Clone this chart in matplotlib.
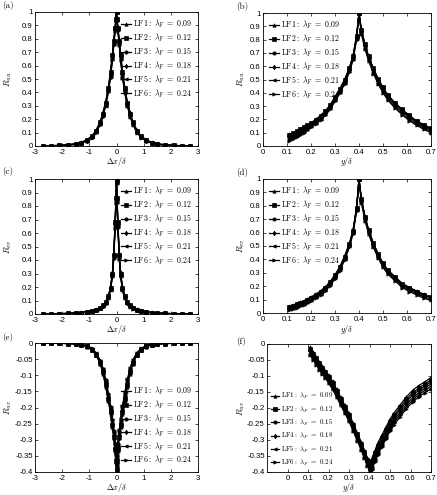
import matplotlib.pyplot as plt

plt.rcParams['mathtext.fontset'] = 'cm'
plt.rcParams['font.family'] = 'Liberation Sans'
plt.rcParams['axes.linewidth'] = 0.6

names = ['LF1', 'LF2', 'LF3', 'LF4', 'LF5', 'LF6']
lams = ['0.09', '0.12', '0.15', '0.18', '0.21', '0.24']

# streamwise separation grid for (a), (c), (e)
dx = [-2.7, -2.4, -2.1, -1.8, -1.5, -1.3, -1.1, -0.9, -0.75, -0.6, -0.5, -0.4, -0.3, -0.22, -0.15, -0.1, -0.05, -0.02,
      0, 0.02, 0.05, 0.1, 0.15, 0.22, 0.3, 0.4, 0.5, 0.6, 0.75, 0.9, 1.1, 1.3, 1.5, 1.8, 2.1, 2.4, 2.7]

# wall-normal grid for (b), (d), (f)
yd = [0.11, 0.125, 0.14, 0.155, 0.17, 0.185, 0.2, 0.22, 0.24, 0.26, 0.28, 0.3, 0.32, 0.34, 0.36, 0.375, 0.39, 0.4,
      0.41, 0.425, 0.44, 0.46, 0.48, 0.5, 0.52, 0.55, 0.58, 0.61, 0.64, 0.67, 0.7]

# (a) R_uu vs dx
ruu_x = [
    [0.002, 0.003, 0.005, 0.009, 0.017, 0.028, 0.045, 0.075, 0.12, 0.18, 0.25, 0.33, 0.44, 0.56, 0.69, 0.79, 0.89, 0.95, 1.0,
     0.95, 0.89, 0.79, 0.69, 0.56, 0.44, 0.33, 0.25, 0.18, 0.12, 0.075, 0.045, 0.028, 0.017, 0.009, 0.005, 0.003, 0.002],
    [0.001, 0.002, 0.004, 0.008, 0.016, 0.026, 0.043, 0.072, 0.115, 0.18, 0.24, 0.32, 0.43, 0.55, 0.68, 0.78, 0.88, 0.95, 1.0,
     0.95, 0.88, 0.78, 0.68, 0.55, 0.43, 0.32, 0.24, 0.18, 0.115, 0.072, 0.043, 0.026, 0.016, 0.008, 0.004, 0.002, 0.001],
    [0.001, 0.002, 0.004, 0.008, 0.015, 0.025, 0.041, 0.07, 0.11, 0.17, 0.24, 0.32, 0.42, 0.54, 0.67, 0.78, 0.88, 0.94, 1.0,
     0.94, 0.88, 0.78, 0.67, 0.54, 0.42, 0.32, 0.24, 0.17, 0.11, 0.07, 0.041, 0.025, 0.015, 0.008, 0.004, 0.002, 0.001],
    [0.001, 0.002, 0.003, 0.007, 0.014, 0.024, 0.04, 0.068, 0.11, 0.17, 0.23, 0.31, 0.42, 0.53, 0.66, 0.77, 0.87, 0.94, 1.0,
     0.94, 0.87, 0.77, 0.66, 0.53, 0.42, 0.31, 0.23, 0.17, 0.11, 0.068, 0.04, 0.024, 0.014, 0.007, 0.003, 0.002, 0.001],
    [0.0, 0.001, 0.003, 0.007, 0.013, 0.023, 0.038, 0.065, 0.105, 0.165, 0.23, 0.30, 0.41, 0.52, 0.65, 0.76, 0.87, 0.94, 1.0,
     0.94, 0.87, 0.76, 0.65, 0.52, 0.41, 0.30, 0.23, 0.165, 0.105, 0.065, 0.038, 0.023, 0.013, 0.007, 0.003, 0.001, 0.0],
    [0.0, 0.001, 0.003, 0.006, 0.012, 0.022, 0.036, 0.062, 0.10, 0.16, 0.22, 0.30, 0.40, 0.51, 0.64, 0.75, 0.86, 0.93, 1.0,
     0.93, 0.86, 0.75, 0.64, 0.51, 0.40, 0.30, 0.22, 0.16, 0.10, 0.062, 0.036, 0.022, 0.012, 0.006, 0.003, 0.001, 0.0],
]

# (c) R_vv vs dx
rvv_x = [
    [0.001, 0.002, 0.003, 0.005, 0.008, 0.012, 0.017, 0.025, 0.034, 0.048, 0.065, 0.09, 0.135, 0.20, 0.31, 0.45, 0.69, 0.87, 1.0,
     0.87, 0.69, 0.45, 0.31, 0.20, 0.135, 0.09, 0.065, 0.048, 0.034, 0.025, 0.017, 0.012, 0.008, 0.005, 0.003, 0.002, 0.001],
    [0.001, 0.002, 0.003, 0.004, 0.007, 0.011, 0.016, 0.024, 0.033, 0.046, 0.063, 0.088, 0.13, 0.195, 0.30, 0.44, 0.68, 0.86, 0.99,
     0.86, 0.68, 0.44, 0.30, 0.195, 0.13, 0.088, 0.063, 0.046, 0.033, 0.024, 0.016, 0.011, 0.007, 0.004, 0.003, 0.002, 0.001],
    [0.0, 0.001, 0.002, 0.004, 0.007, 0.01, 0.015, 0.023, 0.032, 0.045, 0.06, 0.085, 0.13, 0.19, 0.30, 0.44, 0.67, 0.85, 0.98,
     0.85, 0.67, 0.44, 0.30, 0.19, 0.13, 0.085, 0.06, 0.045, 0.032, 0.023, 0.015, 0.01, 0.007, 0.004, 0.002, 0.001, 0.0],
    [0.0, 0.001, 0.002, 0.004, 0.006, 0.01, 0.015, 0.022, 0.031, 0.043, 0.058, 0.083, 0.125, 0.185, 0.29, 0.43, 0.66, 0.84, 0.98,
     0.84, 0.66, 0.43, 0.29, 0.185, 0.125, 0.083, 0.058, 0.043, 0.031, 0.022, 0.015, 0.01, 0.006, 0.004, 0.002, 0.001, 0.0],
    [0.0, 0.001, 0.002, 0.003, 0.006, 0.009, 0.014, 0.021, 0.03, 0.042, 0.056, 0.08, 0.12, 0.18, 0.285, 0.42, 0.65, 0.83, 0.97,
     0.83, 0.65, 0.42, 0.285, 0.18, 0.12, 0.08, 0.056, 0.042, 0.03, 0.021, 0.014, 0.009, 0.006, 0.003, 0.002, 0.001, 0.0],
    [0.0, 0.001, 0.002, 0.003, 0.005, 0.009, 0.013, 0.02, 0.029, 0.04, 0.054, 0.078, 0.115, 0.175, 0.28, 0.41, 0.64, 0.82, 0.97,
     0.82, 0.64, 0.41, 0.28, 0.175, 0.115, 0.078, 0.054, 0.04, 0.029, 0.02, 0.013, 0.009, 0.005, 0.003, 0.002, 0.001, 0.0],
]

# (e) R_uv vs dx
ruv_x = [
    [0.0, -0.0005, -0.001, -0.002, -0.003, -0.006, -0.011, -0.022, -0.038, -0.065, -0.095, -0.135, -0.18, -0.22, -0.26, -0.295, -0.335, -0.37, -0.40,
     -0.37, -0.335, -0.295, -0.26, -0.22, -0.18, -0.135, -0.095, -0.065, -0.038, -0.022, -0.011, -0.006, -0.003, -0.002, -0.001, -0.0005, 0.0],
    [0.0, 0.0, -0.001, -0.002, -0.003, -0.005, -0.01, -0.021, -0.036, -0.062, -0.09, -0.13, -0.175, -0.215, -0.255, -0.29, -0.33, -0.365, -0.395,
     -0.365, -0.33, -0.29, -0.255, -0.215, -0.175, -0.13, -0.09, -0.062, -0.036, -0.021, -0.01, -0.005, -0.003, -0.002, -0.001, 0.0, 0.0],
    [0.0, 0.0, -0.001, -0.001, -0.003, -0.005, -0.01, -0.02, -0.035, -0.06, -0.087, -0.125, -0.17, -0.21, -0.25, -0.285, -0.325, -0.36, -0.39,
     -0.36, -0.325, -0.285, -0.25, -0.21, -0.17, -0.125, -0.087, -0.06, -0.035, -0.02, -0.01, -0.005, -0.003, -0.001, -0.001, 0.0, 0.0],
    [0.0, 0.0, 0.0, -0.001, -0.002, -0.005, -0.009, -0.019, -0.033, -0.057, -0.084, -0.12, -0.165, -0.205, -0.245, -0.28, -0.32, -0.355, -0.385,
     -0.355, -0.32, -0.28, -0.245, -0.205, -0.165, -0.12, -0.084, -0.057, -0.033, -0.019, -0.009, -0.005, -0.002, -0.001, 0.0, 0.0, 0.0],
    [0.0, 0.0, 0.0, -0.001, -0.002, -0.004, -0.009, -0.018, -0.032, -0.055, -0.081, -0.117, -0.16, -0.20, -0.24, -0.275, -0.315, -0.35, -0.38,
     -0.35, -0.315, -0.275, -0.24, -0.20, -0.16, -0.117, -0.081, -0.055, -0.032, -0.018, -0.009, -0.004, -0.002, -0.001, 0.0, 0.0, 0.0],
    [0.0, 0.0, 0.0, -0.001, -0.002, -0.004, -0.008, -0.017, -0.03, -0.053, -0.078, -0.113, -0.155, -0.195, -0.235, -0.27, -0.31, -0.345, -0.375,
     -0.345, -0.31, -0.27, -0.235, -0.195, -0.155, -0.113, -0.078, -0.053, -0.03, -0.017, -0.008, -0.004, -0.002, -0.001, 0.0, 0.0, 0.0],
]

# (b) R_uu vs y
ruu_y = [
    [0.09, 0.10, 0.115, 0.13, 0.145, 0.16, 0.175, 0.20, 0.23, 0.265, 0.31, 0.37, 0.43, 0.50, 0.59, 0.68, 0.83, 1.0,
     0.87, 0.76, 0.67, 0.58, 0.50, 0.43, 0.38, 0.32, 0.27, 0.22, 0.18, 0.15, 0.13],
    [0.08, 0.095, 0.11, 0.125, 0.14, 0.155, 0.17, 0.195, 0.225, 0.26, 0.305, 0.365, 0.425, 0.495, 0.585, 0.675, 0.83, 1.0,
     0.875, 0.765, 0.675, 0.585, 0.505, 0.44, 0.385, 0.325, 0.275, 0.23, 0.19, 0.16, 0.135],
    [0.07, 0.085, 0.10, 0.115, 0.13, 0.145, 0.165, 0.19, 0.22, 0.255, 0.30, 0.36, 0.42, 0.49, 0.58, 0.67, 0.82, 1.0,
     0.87, 0.76, 0.67, 0.58, 0.50, 0.435, 0.38, 0.32, 0.27, 0.225, 0.185, 0.155, 0.13],
    [0.06, 0.075, 0.09, 0.105, 0.12, 0.14, 0.16, 0.185, 0.215, 0.25, 0.295, 0.355, 0.415, 0.485, 0.575, 0.665, 0.82, 1.0,
     0.86, 0.75, 0.66, 0.57, 0.49, 0.425, 0.37, 0.31, 0.26, 0.215, 0.175, 0.145, 0.12],
    [0.05, 0.065, 0.08, 0.095, 0.11, 0.13, 0.15, 0.175, 0.205, 0.24, 0.285, 0.345, 0.405, 0.475, 0.565, 0.655, 0.81, 1.0,
     0.85, 0.74, 0.65, 0.555, 0.475, 0.41, 0.355, 0.295, 0.245, 0.20, 0.165, 0.135, 0.11],
    [0.04, 0.055, 0.07, 0.085, 0.10, 0.12, 0.14, 0.165, 0.195, 0.23, 0.275, 0.335, 0.395, 0.465, 0.555, 0.645, 0.80, 1.0,
     0.84, 0.73, 0.64, 0.545, 0.465, 0.40, 0.345, 0.285, 0.235, 0.19, 0.155, 0.125, 0.10],
]

# (d) R_vv vs y
rvv_y = [
    [0.05, 0.06, 0.07, 0.08, 0.09, 0.105, 0.12, 0.14, 0.165, 0.195, 0.235, 0.285, 0.345, 0.425, 0.52, 0.62, 0.79, 1.0,
     0.85, 0.72, 0.62, 0.52, 0.44, 0.37, 0.32, 0.27, 0.22, 0.19, 0.165, 0.14, 0.12],
    [0.045, 0.055, 0.065, 0.075, 0.085, 0.10, 0.115, 0.135, 0.16, 0.19, 0.23, 0.28, 0.34, 0.42, 0.515, 0.615, 0.785, 1.0,
     0.85, 0.72, 0.62, 0.52, 0.44, 0.37, 0.32, 0.27, 0.22, 0.19, 0.16, 0.135, 0.12],
    [0.04, 0.05, 0.06, 0.07, 0.08, 0.095, 0.11, 0.13, 0.155, 0.185, 0.225, 0.275, 0.335, 0.415, 0.51, 0.61, 0.78, 1.0,
     0.845, 0.715, 0.615, 0.515, 0.435, 0.365, 0.315, 0.265, 0.215, 0.185, 0.16, 0.135, 0.115],
    [0.035, 0.045, 0.055, 0.065, 0.075, 0.09, 0.105, 0.125, 0.15, 0.18, 0.22, 0.27, 0.33, 0.41, 0.505, 0.605, 0.775, 1.0,
     0.84, 0.71, 0.61, 0.51, 0.43, 0.36, 0.31, 0.26, 0.21, 0.18, 0.155, 0.13, 0.115],
    [0.03, 0.04, 0.05, 0.06, 0.07, 0.085, 0.10, 0.12, 0.145, 0.175, 0.215, 0.265, 0.325, 0.405, 0.50, 0.60, 0.77, 1.0,
     0.83, 0.70, 0.60, 0.50, 0.42, 0.35, 0.30, 0.25, 0.20, 0.17, 0.145, 0.12, 0.105],
    [0.02, 0.03, 0.04, 0.05, 0.06, 0.075, 0.09, 0.11, 0.135, 0.165, 0.205, 0.255, 0.315, 0.395, 0.49, 0.59, 0.76, 1.0,
     0.82, 0.69, 0.59, 0.49, 0.41, 0.34, 0.29, 0.24, 0.19, 0.16, 0.135, 0.11, 0.095],
]

# (f) R_uv vs y
ruv_y = [
    [-0.01, -0.025, -0.04, -0.055, -0.07, -0.083, -0.097, -0.117, -0.142, -0.167, -0.192, -0.217, -0.247, -0.277, -0.307, -0.332, -0.355, -0.37,
     -0.36, -0.335, -0.31, -0.285, -0.26, -0.235, -0.215, -0.19, -0.165, -0.145, -0.13, -0.118, -0.105],
    [-0.015, -0.03, -0.045, -0.06, -0.075, -0.088, -0.102, -0.122, -0.147, -0.172, -0.197, -0.222, -0.252, -0.282, -0.312, -0.337, -0.362, -0.377,
     -0.367, -0.342, -0.318, -0.293, -0.268, -0.243, -0.223, -0.198, -0.173, -0.153, -0.138, -0.125, -0.112],
    [-0.02, -0.035, -0.05, -0.065, -0.08, -0.092, -0.107, -0.127, -0.152, -0.177, -0.202, -0.227, -0.257, -0.287, -0.317, -0.342, -0.367, -0.382,
     -0.372, -0.348, -0.325, -0.30, -0.275, -0.25, -0.23, -0.205, -0.18, -0.16, -0.145, -0.132, -0.118],
    [-0.025, -0.04, -0.055, -0.07, -0.085, -0.097, -0.112, -0.132, -0.157, -0.182, -0.207, -0.232, -0.262, -0.292, -0.322, -0.347, -0.372, -0.388,
     -0.38, -0.356, -0.333, -0.308, -0.283, -0.258, -0.238, -0.213, -0.188, -0.168, -0.152, -0.138, -0.125],
    [-0.03, -0.045, -0.06, -0.075, -0.09, -0.102, -0.117, -0.137, -0.162, -0.187, -0.212, -0.237, -0.267, -0.297, -0.327, -0.352, -0.377, -0.393,
     -0.387, -0.363, -0.34, -0.315, -0.29, -0.265, -0.245, -0.22, -0.195, -0.175, -0.158, -0.145, -0.132],
    [-0.035, -0.05, -0.065, -0.08, -0.095, -0.107, -0.122, -0.142, -0.167, -0.192, -0.217, -0.242, -0.272, -0.302, -0.332, -0.357, -0.382, -0.398,
     -0.393, -0.37, -0.347, -0.322, -0.297, -0.272, -0.252, -0.227, -0.202, -0.182, -0.165, -0.152, -0.14],
]

ticks_dx = [-3, -2, -1, 0, 1, 2, 3]
ticks_y = [0, 0.1, 0.2, 0.3, 0.4, 0.5, 0.6, 0.7]
ticks_r = [0, 0.1, 0.2, 0.3, 0.4, 0.5, 0.6, 0.7, 0.8, 0.9, 1]
ticks_uv = [-0.4, -0.35, -0.3, -0.25, -0.2, -0.15, -0.1, -0.05, 0]

marks = ['^', 's', 'o', 'd', '<', '>']
W, H = 437, 495
fig = plt.figure(figsize=(W / 100, H / 100), dpi=100)


def panel(l, t, r, b, x, series, xlim, ylim, xt, yt, xlab, ylab, tag, tagxy, ylabx, loc,
          legsize=5.7, legpad=0.4, legspace=0.2, leghandle=1.3):
    ax = fig.add_axes([l / W, 1 - b / H, (r - l) / W, (b - t) / H])
    for i, s in enumerate(series):
        ax.plot(x, s, '-', color='k', marker=marks[i], ms=2.4, lw=0.9, mew=0.5,
                label=r'$\mathrm{' + names[i] + r'{:}}\ \lambda_F\ =\ ' + lams[i] + '$')
    ax.set_xlim(xlim)
    ax.set_ylim(ylim)
    ax.set_xticks(xt)
    ax.set_xticklabels(['%g' % v for v in xt])
    ax.set_yticks(yt)
    ax.set_yticklabels(['%g' % v for v in yt])
    ax.tick_params(direction='in', length=2.5, width=0.5, labelsize=5.6, top=True, right=True)
    ax.tick_params(axis='x', pad=2.0)
    ax.tick_params(axis='y', pad=1.6)
    ax.set_xlabel(xlab, fontsize=5.8)
    ax.xaxis.set_label_coords(0.5, -9.5 / (b - t))
    ax.set_ylabel(ylab, fontsize=6.5, va='center')
    ax.yaxis.set_label_coords((ylabx - l) / (r - l), 0.5)
    ax.legend(loc=loc, frameon=False, prop={'size': legsize},
              handlelength=leghandle, handletextpad=0.3, labelspacing=legspace,
              borderaxespad=legpad, borderpad=0.3)
    fig.text(tagxy[0] / W, 1 - tagxy[1] / H, tag, family='cmr10', fontsize=6.5, va='top')
    return ax


panel(35, 12, 198, 146, dx, ruu_x, (-3, 3), (0, 1), ticks_dx, ticks_r,
      r'$\Delta x/\delta$', r'$R_{uu}$', '(a)', (2, 1), 8, 'upper right')
panel(263, 13, 431, 146, yd, ruu_y, (0, 0.7), (0, 1), ticks_y, ticks_r,
      r'$y/\delta$', r'$R_{uu}$', '(b)', (236, 2), 241, 'upper left')
panel(35, 179, 198, 314, dx, rvv_x, (-3, 3), (0, 1), ticks_dx, ticks_r,
      r'$\Delta x/\delta$', r'$R_{vv}$', '(c)', (2, 167), 8, 'upper right')
panel(263, 179, 431, 313, yd, rvv_y, (0, 0.7), (0, 1), ticks_y, ticks_r,
      r'$y/\delta$', r'$R_{vv}$', '(d)', (236, 168), 241, 'upper left')
panel(35, 343, 198, 472, dx, ruv_x, (-3, 3), (-0.4, 0), ticks_dx, ticks_uv,
      r'$\Delta x/\delta$', r'$R_{uv}$', '(e)', (2, 333), 8, 'lower right')
panel(267, 344, 431, 472, yd, ruv_y, (-0.1, 0.7), (-0.4, 0), ticks_y, ticks_uv,
      r'$y/\delta$', r'$R_{uv}$', '(f)', (236, 337), 241, 'lower left',
      legsize=5.0, legpad=0.3, legspace=0.45, leghandle=1.1)

fig.savefig('out.png', dpi=100)
